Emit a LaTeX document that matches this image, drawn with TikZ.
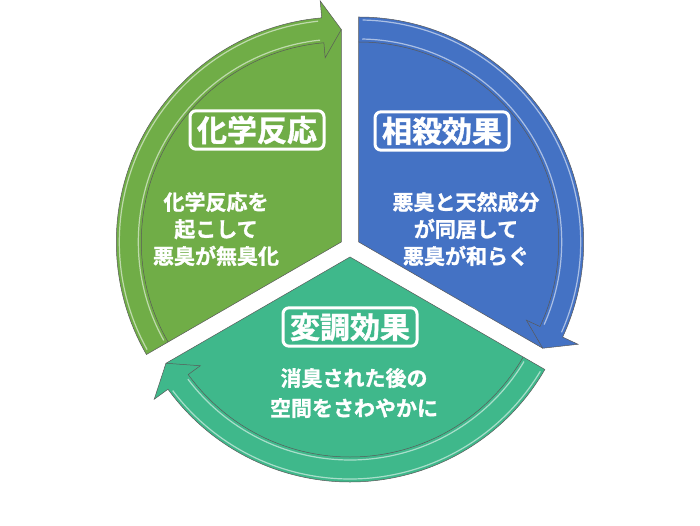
\documentclass[tikz,border=0pt]{standalone}
\usepackage{fontspec}
\newfontfamily\jpfont{Noto Sans CJK JP}[BoldFont={Noto Sans CJK JP Bold},BoldFeatures={FakeBold=1.2}]
\definecolor{reactgreen}{HTML}{70AD47}
\definecolor{offsetblue}{HTML}{4472C4}
\definecolor{masking}{HTML}{3FB88B}

\begin{document}
\begin{tikzpicture}[x=1pt,y=1pt,
  part/.style={draw=black!65,line width=0.5pt},
  shine/.style={white,opacity=0.55,line width=1.2pt},
  title/.style={draw=white,line width=3pt,rounded corners=6pt,text=white,
    font=\jpfont\bfseries\fontsize{30}{30}\selectfont,inner xsep=7pt,inner ysep=5pt},
  body/.style={text=white,align=center,font=\jpfont\bfseries\fontsize{21}{27}\selectfont}]
  \useasboundingbox (0,0) rectangle (700,525);

  % chemical reaction, upper left
  \begin{scope}[shift={(341.3,283)}]
    \filldraw[part,fill=reactgreen] (0,0) -- (210:225) arc[start angle=210,end angle=95,radius=225pt]
      -- (95:242) -- (90:212.5) -- cycle;
    \draw[part] (210:200) arc[start angle=210,end angle=95,radius=200pt] -- (95:185) -- (90:212.5);
    \draw[shine] (209:203) arc[start angle=209,end angle=96,radius=203pt];
    \draw[shine] (209:222) arc[start angle=209,end angle=96,radius=222pt];
  \end{scope}

  % offset effect, upper right
  \begin{scope}[shift={(358.7,283)}]
    \filldraw[part,fill=offsetblue] (0,0) -- (90:225) arc[start angle=90,end angle=-25,radius=225pt]
      -- (-25:242) -- (-30:212.5) -- cycle;
    \draw[part] (90:200) arc[start angle=90,end angle=-25,radius=200pt] -- (-25:185) -- (-30:212.5);
    \draw[shine] (89:203) arc[start angle=89,end angle=-24,radius=203pt];
    \draw[shine] (89:222) arc[start angle=89,end angle=-24,radius=222pt];
  \end{scope}

  % masking effect, bottom
  \begin{scope}[shift={(350,268)}]
    \filldraw[part,fill=masking] (0,0) -- (330:225) arc[start angle=330,end angle=216,radius=225pt]
      -- (216:242) -- (210:212.5) -- cycle;
    \draw[part] (330:200) arc[start angle=330,end angle=216,radius=200pt] -- (216:185) -- (210:212.5);
    \draw[shine] (329:203) arc[start angle=329,end angle=217,radius=203pt];
    \draw[shine] (329:222) arc[start angle=329,end angle=217,radius=222pt];
  \end{scope}

  \node[title] (react)  at (257,395) {化学反応};
  \node[title] (offset) at (442,394) {相殺効果};
  \node[title] (mask)   at (350,198) {変調効果};

  \node[body] (reacttext)  at (216,296) {化学反応を\\起こして\\悪臭が無臭化};
  \node[body] (offsettext) at (466,296) {悪臭と天然成分\\が同居して\\悪臭が和らぐ};
  \node[body,font=\jpfont\bfseries\fontsize{21}{30}\selectfont] (masktext) at (354,132) {消臭された後の\\空間をさわやかに};
\end{tikzpicture}
\end{document}
